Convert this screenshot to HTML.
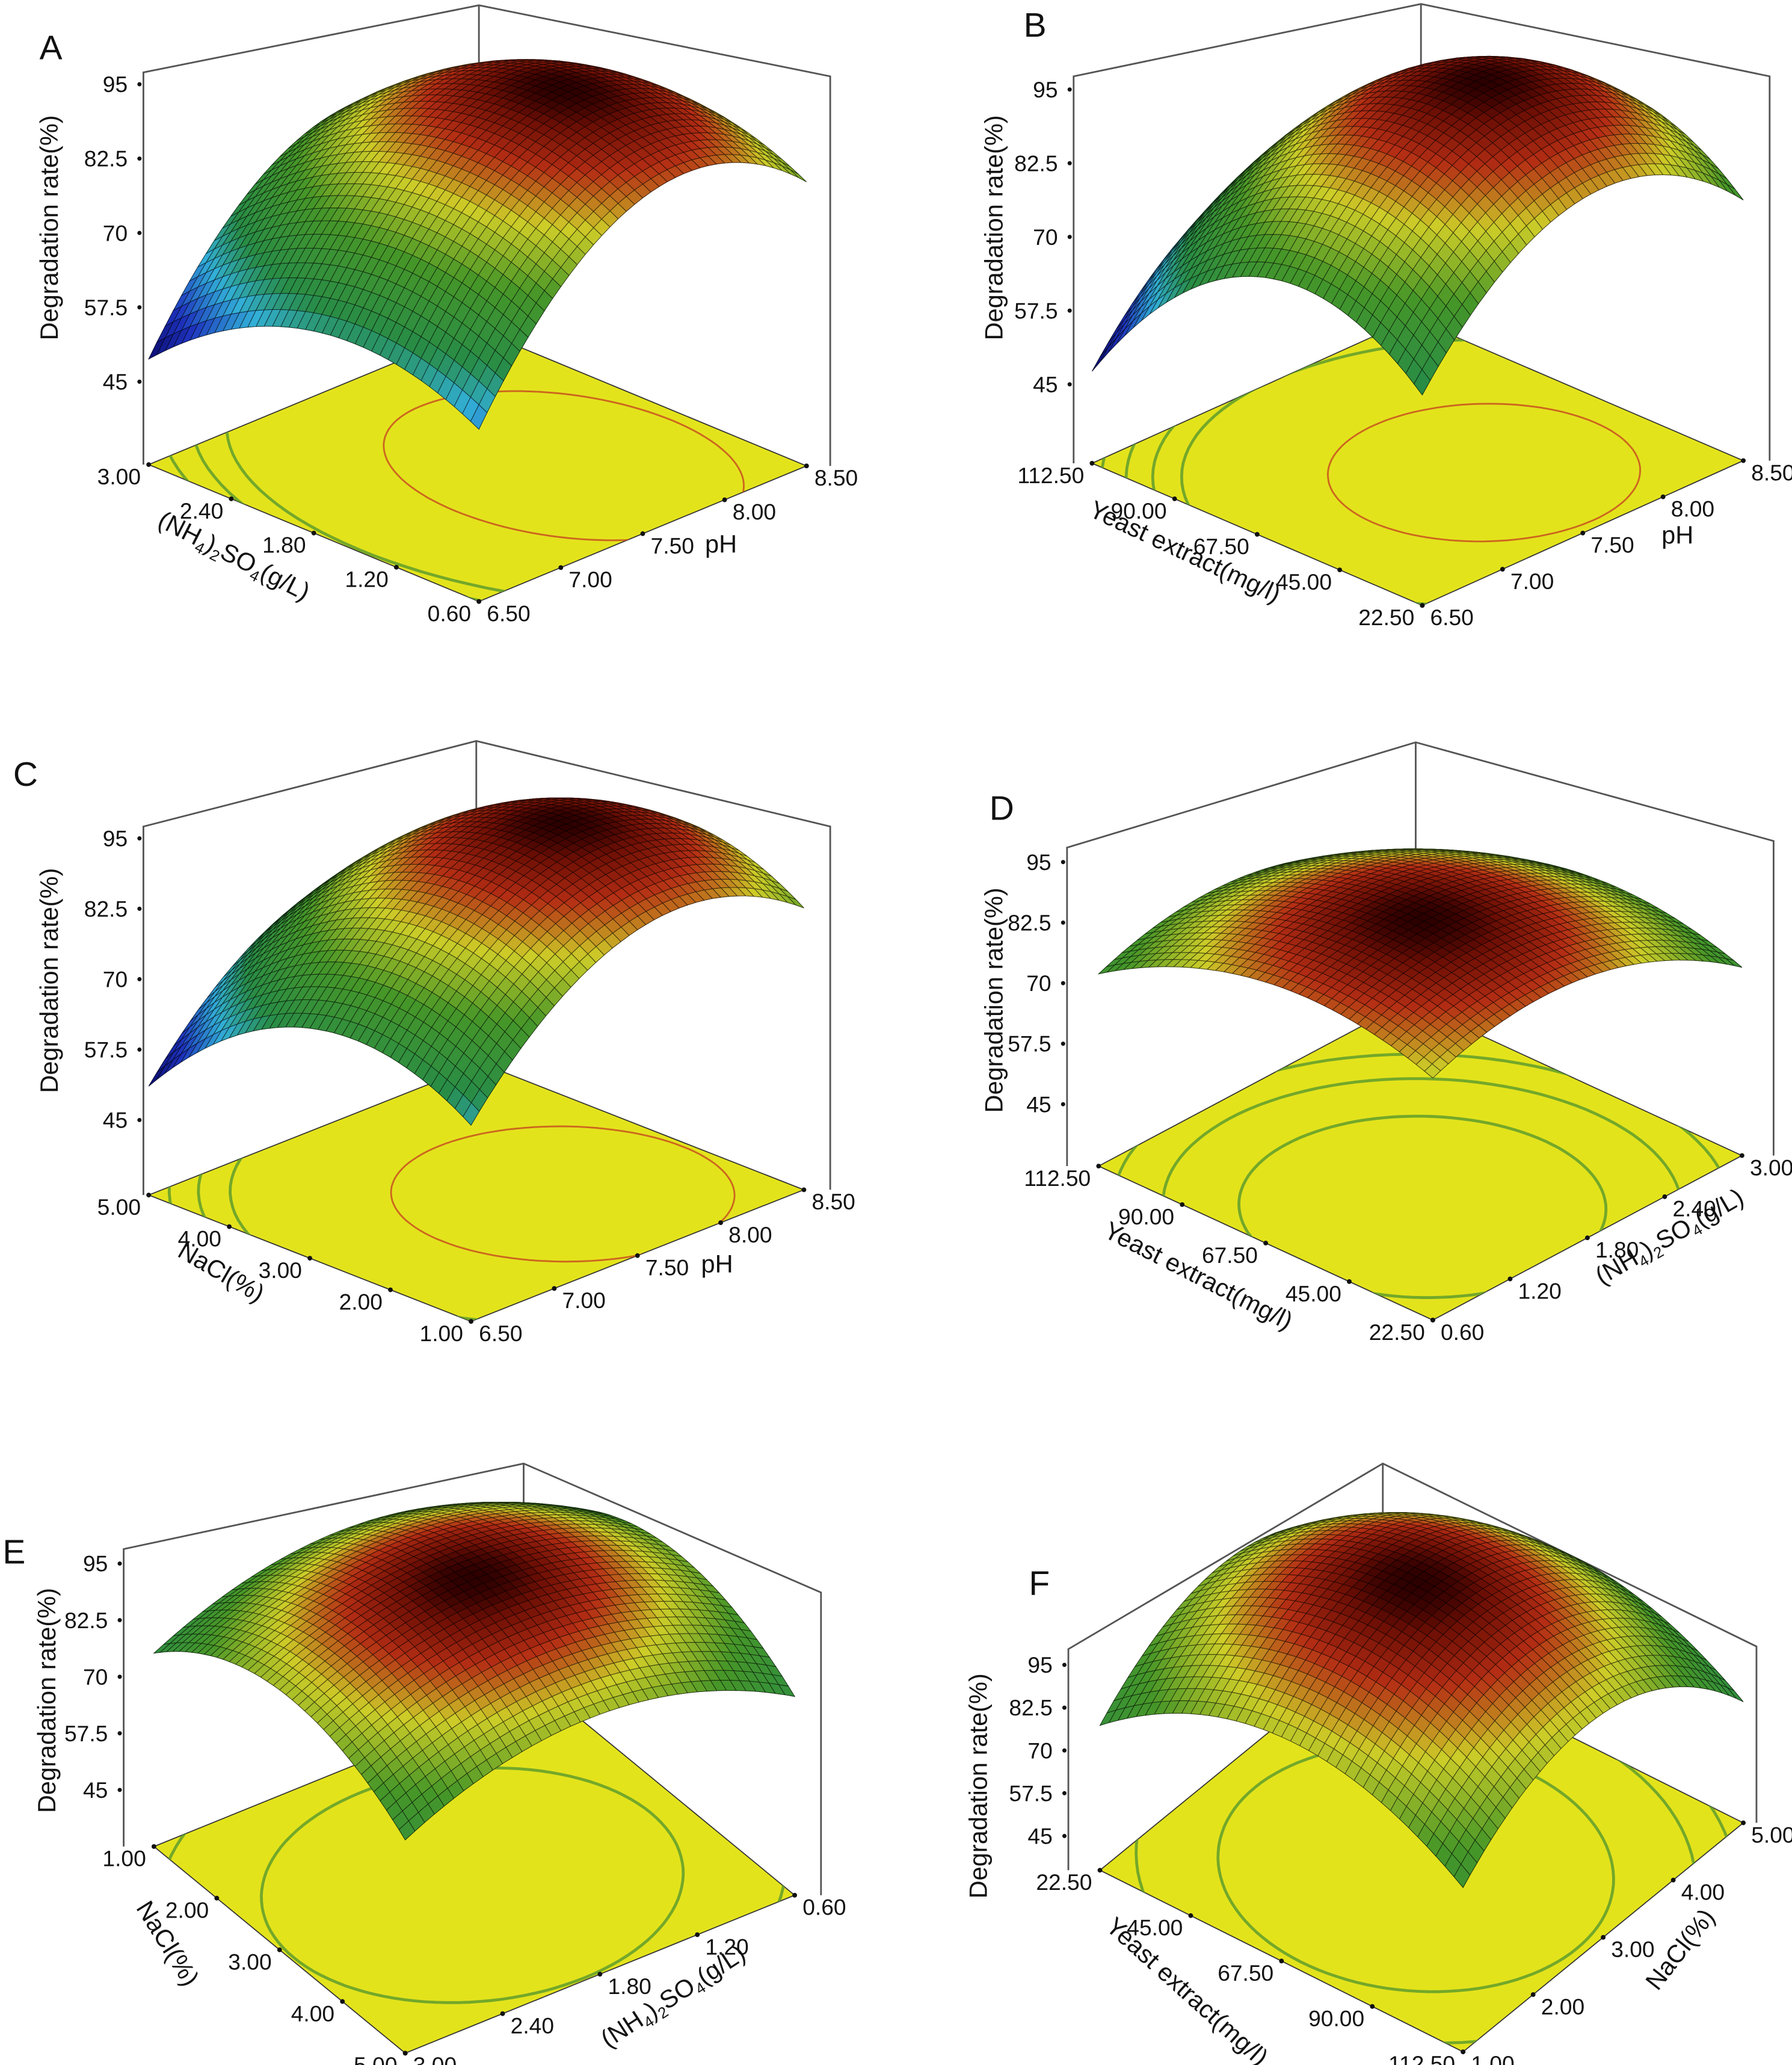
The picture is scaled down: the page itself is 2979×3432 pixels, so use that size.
<!DOCTYPE html>
<html><head><meta charset="utf-8">
<style>
html,body{margin:0;padding:0;background:#fff;}
svg{display:block;font-family:"Liberation Sans",sans-serif;}
</style></head>
<body>
<svg id="fig" width="2979" height="3432" viewBox="0 0 1362 1569" preserveAspectRatio="none" xmlns="http://www.w3.org/2000/svg">
<rect x="0" y="0" width="1362" height="1569" fill="#fff"/>
</svg>
<script>
// ---- chart data ----
const zTickLabels = ["95","82.5","70","57.5","45"];
const zTickValues = [95, 82.5, 70, 57.5, 45];
const phTicks = ["6.50","7.00","7.50","8.00","8.50"];
const nh4Ticks = ["0.60","1.20","1.80","2.40","3.00"];
const nh4TicksRev = ["3.00","2.40","1.80","1.20","0.60"];
const yeastTicks = ["22.50","45.00","67.50","90.00","112.50"];
const yeastTicksRev = ["112.50","90.00","67.50","45.00","22.50"];
const naclTicks = ["1.00","2.00","3.00","4.00","5.00"];
const naclTicksRev = ["5.00","4.00","3.00","2.00","1.00"];
// surface model coefficients per panel: [z0, pa, qa, pb, qb]
const surfA = [60, 31.2, 42.4, 91.2, 72.4];
const surfB = [67.3, 52.1, 72.2, 75.5, 67];
const surfC = [66.5, 39.5, 55, 76.8, 61.6];
const surfD = [82.2, 25.9, 36.2, 26.7, 37.8];
const surfE = [79.6, 45.6, 50, 44.4, 47.6];
const surfF = [83, 75.7, 81.4, 82.6, 95.2];

const NS = "http://www.w3.org/2000/svg";
const svg = document.getElementById('fig');
function mk(tag, attrs, parent){
  const e = document.createElementNS(NS, tag);
  for (const k in attrs) e.setAttribute(k, attrs[k]);
  (parent||svg).appendChild(e);
  return e;
}
const NH4 = "(NH|4|)|2|SO|4|(g/L)";
const panels = [
 {id:"a", letter:"A", lp:[30,45], L:[113,353], F:[364,457], R:[613,354], ax:109, y95:64, y45:290,
  LT:[109,55], BT:[364,4], RT:[631,58], RV:631, coef:surfA, cLow:0, gam:1, red:8, greens:[28,34,40,46],
  aT:nh4Ticks, bT:phTicks, aTitle:NH4, aPos:[175,428], aAng:27, bTitle:"pH", bPos:[548,420], bAng:0, zPos:[44,173]},
 {id:"b", letter:"B", lp:[778,28], L:[830,352], F:[1081,460], R:[1325,350], ax:816, y95:68, y45:292,
  LT:[816,58], BT:[1080,3], RT:[1345,58], RV:1345, coef:surfB, cLow:0, gam:1, red:8, greens:[30,36,42,48],
  aT:yeastTicks, bT:phTicks, aTitle:"Yeast extract(mg/l)", aPos:[898,425], aAng:25, bTitle:"pH", bPos:[1275,413], bAng:0, zPos:[762,173]},
 {id:"c", letter:"C", lp:[10,597], L:[113,908], F:[358,1004], R:[611,904], ax:109, y95:637, y45:851,
  LT:[109,628], BT:[362,563], RT:[631,628], RV:631, coef:surfC, cLow:0, gam:1, red:8, greens:[30,36,42,48],
  aT:naclTicks, bT:phTicks, aTitle:"NaCl(%)", aPos:[165,972], aAng:30, bTitle:"pH", bPos:[545,967], bAng:0, zPos:[44,745]},
 {id:"d", letter:"D", lp:[752,623], L:[835,886], F:[1089,1003], R:[1324,878], ax:811, y95:655, y45:839,
  LT:[811,644], BT:[1076,564], RT:[1348,639], RV:1348, coef:surfD, cLow:0.45, gam:1.6, red:0, greens:[6,12,17],
  aT:yeastTicks, bT:nh4Ticks, aTitle:"Yeast extract(mg/l)", aPos:[908,975], aAng:27, bTitle:NH4, bPos:[1272,945], bAng:-30, zPos:[762,760]},
 {id:"e", letter:"E", lp:[2,1188], L:[117,1403], F:[308,1560], R:[604,1440], ax:94, y95:1188, y45:1360,
  LT:[94,1177], BT:[398,1112], RT:[624,1210], RV:624, coef:surfE, cLow:0.45, gam:1.5, red:0, greens:[10,22,28],
  aT:naclTicksRev, bT:nh4TicksRev, aTitle:"NaCl(%)", aPos:[122,1480], aAng:58, bTitle:NH4, bPos:[515,1522], bAng:-33, zPos:[42,1292]},
 {id:"f", letter:"F", lp:[782,1212], L:[836,1421], F:[1112,1559], R:[1325,1385], ax:812, y95:1265, y45:1395,
  LT:[812,1253], BT:[1051,1112], RT:[1335,1251], RV:1335, coef:surfF, cLow:0.45, gam:1.5, red:0, greens:[16,32,42],
  aT:yeastTicksRev, bT:naclTicks, aTitle:"Yeast extract(mg/l)", aPos:[898,1518], aAng:42, bTitle:"NaCl(%)", bPos:[1282,1485], bAng:-52, zPos:[750,1357]}
];

const stops = [[0,[10,10,105]],[0.15,[30,50,190]],[0.3,[50,175,215]],[0.42,[40,140,70]],[0.62,[70,150,40]],[0.78,[205,205,40]],[0.9,[180,45,20]],[0.97,[110,15,5]],[1,[45,0,0]]];
function cmap(t){
  t=Math.max(0,Math.min(1,t));
  for(let i=1;i<stops.length;i++){
    if(t<=stops[i][0]){
      const [t0,c0]=stops[i-1],[t1,c1]=stops[i];
      const f=(t-t0)/(t1-t0);
      return c0.map((v,j)=>Math.round(v+(c1[j]-v)*f));
    }
  }
  return stops[stops.length-1][1];
}
function addTitle(g, str, pos, ang, size){
  const t = mk('text',{x:0,y:0,'font-size':size,'text-anchor':'middle',fill:'#111',
    transform:`translate(${pos[0]},${pos[1]}) rotate(${ang})`},g);
  const parts = str.split('|');
  if(parts.length===1){ t.textContent=str; return t; }
  parts.forEach((p,i)=>{
    const sub = (i%2===1);
    const ts = mk('tspan', sub?{'font-size':size*0.62, dy:4}:{dy:(i>0?-4:0)}, t);
    ts.textContent=p;
  });
  return t;
}

panels.forEach(P=>{
  const g = mk('g',{});
  
  
  const k = (P.y45-P.y95)/50;
  const zf = 45 - (P.L[1]-P.y45)/k;
  const [z0,pa,qa,pb,qb] = P.coef;
  const zfun=(a,b)=>z0+pa*a-qa*a*a+pb*b-qb*b*b;
  const proj=(a,b,z)=>[P.F[0]+a*(P.L[0]-P.F[0])+b*(P.R[0]-P.F[0]),
                       P.F[1]+a*(P.L[1]-P.F[1])+b*(P.R[1]-P.F[1])-(z-zf)*k];
  const B=[P.L[0]+P.R[0]-P.F[0], P.L[1]+P.R[1]-P.F[1]];
  const box = mk('path',{d:`M${P.LT[0]},${P.L[1]}L${P.LT[0]},${P.LT[1]}L${P.BT[0]},${P.BT[1]}L${P.RT[0]},${P.RT[1]}L${P.RV},${P.R[1]} M${P.BT[0]},${P.BT[1]}L${P.BT[0]},${B[1]}`,
    fill:'none',stroke:'#555','stroke-width':1.3},g);
  
  
  const floorPts=[P.F,P.L,B,P.R].map(p=>p.join(',')).join(' ');
  const floor = mk('polygon',{points:floorPts,fill:'#e3e31c',stroke:'#333','stroke-width':0.8},g);
  
  
  const cp = mk('clipPath',{id:'clip'+P.id},g);
  mk('polygon',{points:floorPts},cp);
  const a0=pa/(2*qa), b0=pb/(2*qb);
  const rings=[];
  P.greens.forEach(d=>rings.push([d,'#5f9e2c',2.2]));
  if(P.red) rings.push([P.red,'#c8501e',1.3]);
  rings.forEach(([d,col,w])=>{
    const ra=Math.sqrt(d/qa), rb=Math.sqrt(d/qb);
    let s='';
    for(let i=0;i<=120;i++){
      const th=i/120*2*Math.PI;
      const p=proj(a0+ra*Math.cos(th), b0+rb*Math.sin(th), zf);
      s+=(i?'L':'M')+p[0].toFixed(1)+','+p[1].toFixed(1);
    }
    const c=mk('path',{d:s,fill:'none',stroke:col,'stroke-width':w,'clip-path':`url(#clip${P.id})`,opacity:0.85},g);
    
    
  });
  const N=40;
  let zmin=1e9, zm=-1e9;
  for(let i=0;i<=N;i++)for(let j=0;j<=N;j++){const z=zfun(i/N,j/N);zmin=Math.min(zmin,z);zm=Math.max(zm,z);}
  const sg=mk('g',{},g);
  
  
  const quads=[];
  for(let i=0;i<N;i++)for(let j=0;j<N;j++)quads.push([i,j]);
  quads.sort((p,q)=>(q[0]+q[1])-(p[0]+p[1]));
  quads.forEach(([i,j])=>{
    const cs=[[i,j],[i+1,j],[i+1,j+1],[i,j+1]].map(([u,v])=>{const a=u/N,b=v/N;return proj(a,b,zfun(a,b));});
    const zc=zfun((i+.5)/N,(j+.5)/N);
    const tn=Math.pow((zc-zmin)/(zm-zmin),P.gam);
    const t=P.cLow+tn*(1-P.cLow);
    const c=cmap(t);
    const dk=c.map(v=>Math.round(v*0.3));
    mk('polygon',{points:cs.map(p=>p[0].toFixed(1)+','+p[1].toFixed(1)).join(' '),
      fill:`rgb(${c})`,stroke:`rgb(${dk})`,'stroke-width':0.45},sg);
  });
  zTickValues.forEach((v,i)=>{
    const y=P.y45-(v-45)*k;
    mk('circle',{cx:P.ax-3,cy:y,r:1.6,fill:'#111'},g);
    const t=mk('text',{x:P.ax-12,y:y+6,'font-size':17,'text-anchor':'end',fill:'#111'},g);
    t.textContent=zTickLabels[i];
    
    
  });
  P.aT.forEach((lab,i)=>{
    const f=i/4;
    const p=[P.F[0]+f*(P.L[0]-P.F[0]), P.F[1]+f*(P.L[1]-P.F[1])];
    mk('circle',{cx:p[0],cy:p[1],r:1.8,fill:'#111'},g);
    const t=mk('text',{x:p[0]-6,y:p[1]+15,'font-size':17,'text-anchor':'end',fill:'#111'},g);
    t.textContent=lab;
    
    
  });
  P.bT.forEach((lab,i)=>{
    const f=i/4;
    const p=[P.F[0]+f*(P.R[0]-P.F[0]), P.F[1]+f*(P.R[1]-P.F[1])];
    mk('circle',{cx:p[0],cy:p[1],r:1.8,fill:'#111'},g);
    const t=mk('text',{x:p[0]+6,y:p[1]+15,'font-size':17,'text-anchor':'start',fill:'#111'},g);
    t.textContent=lab;
    
    
  });
  const at=addTitle(g,P.aTitle,P.aPos,P.aAng,19);
  
  
  const bt=addTitle(g,P.bTitle,P.bPos,P.bAng,19);
  
  
  const zt=mk('text',{x:0,y:0,'font-size':19,'text-anchor':'middle',fill:'#111',
    transform:`translate(${P.zPos[0]},${P.zPos[1]}) rotate(-90)`},g);
  zt.textContent="Degradation rate(%)";
  
  
  const lt=mk('text',{x:P.lp[0],y:P.lp[1],'font-size':26,fill:'#111'},g);
  lt.textContent=P.letter;
  
  
});
</script>
</body></html>
